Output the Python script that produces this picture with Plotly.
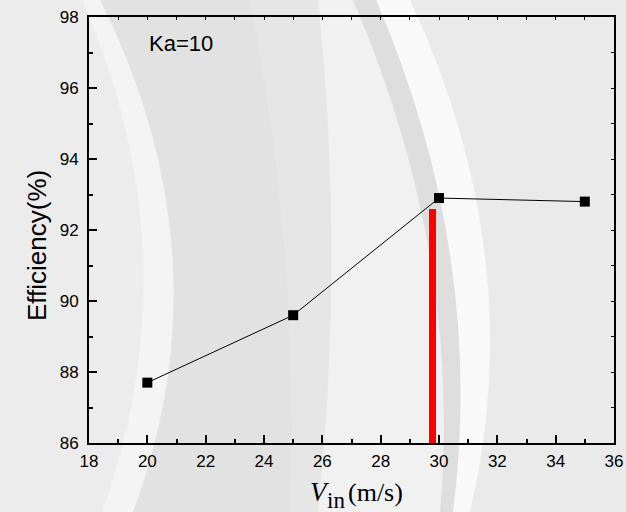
import plotly.graph_objects as go

# ---------------- data ----------------
velocity = [20, 25, 30, 35]
efficiency = [87.7, 89.6, 92.9, 92.8]
marker_line_x = [29.77]
marker_line_top = [92.6]
x_ticks = [18, 20, 22, 24, 26, 28, 30, 32, 34, 36]
y_ticks = [86, 88, 90, 92, 94, 96, 98]
annotation_label = "Ka=10"
y_title = "Efficiency(%)"

# ---------------- layout geometry ----------------
W, H = 626, 512
ML, MR, MT, MB = 89, 12, 17, 69
PW, PH = W - ML - MR, H - MT - MB


def P(x, y):
    return ((x - ML) / PW, (H - MB - y) / PH)


def fmt(pt):
    return f"{pt[0]:.4f},{pt[1]:.4f}"


def region_right_of(p0, c, p2, right=660):
    s = f"M {fmt(P(p0[0], -20))} L {fmt(P(*p0))} Q {fmt(P(*c))} {fmt(P(*p2))} "
    s += f"L {fmt(P(p2[0], 540))} L {fmt(P(right, 540))} L {fmt(P(right, -20))} Z"
    return s


def band(l, r):
    s = f"M {fmt(P(l[0][0], -20))} L {fmt(P(*l[0]))} Q {fmt(P(*l[1]))} {fmt(P(*l[2]))} L {fmt(P(l[2][0], 540))} "
    s += f"L {fmt(P(r[2][0], 540))} L {fmt(P(*r[2]))} Q {fmt(P(*r[1]))} {fmt(P(*r[0]))} L {fmt(P(r[0][0], -20))} Z"
    return s


b1L = [(82, 0), (194, 256), (102, 512)]
b1R = [(100, 0), (228, 256), (133, 512)]
mid1 = [(250, 0), (300, 256), (290, 512)]
lightL = [(318, 0), (345, 256), (318, 512)]
darkL = [(353, 0), (463, 256), (440, 512)]
darkR = [(376, 0), (486, 256), (453, 512)]
whiteR = [(410, 0), (530, 256), (470, 512)]

bg_shapes = []
for curve, col in [(b1R, "#e2e2e2"), (mid1, "#e6e6e6"), (lightL, "#f1f1f1"),
                   (darkL, "#dedede"), (darkR, "#f9f9f9"), (whiteR, "#eaeaea")]:
    bg_shapes.append(dict(type="path", xref="paper", yref="paper", layer="below",
                          path=region_right_of(*curve), fillcolor=col,
                          line=dict(width=0)))
bg_shapes.append(dict(type="path", xref="paper", yref="paper", layer="below",
                      path=band(b1L, b1R), fillcolor="#f4f4f4", line=dict(width=0)))

fig = go.Figure()
fig.add_trace(go.Bar(x=marker_line_x, y=marker_line_top, width=0.26,
                     marker=dict(color="#ff0000", line=dict(width=0)),
                     showlegend=False, hoverinfo="skip"))
fig.add_trace(go.Scatter(x=velocity, y=efficiency, mode="lines+markers",
                         line=dict(color="black", width=1),
                         marker=dict(symbol="square", size=10, color="black"),
                         showlegend=False))
# empty trace to activate mirror axes
fig.add_trace(go.Scatter(x=[], y=[], xaxis="x2", yaxis="y2", showlegend=False))

tickfont = dict(family="Arial, Liberation Sans", size=17, color="black")

fig.update_layout(
    width=W, height=H,
    margin=dict(l=ML, r=MR, t=MT, b=MB, autoexpand=False),
    paper_bgcolor="#ececec",
    plot_bgcolor="rgba(0,0,0,0)",
    shapes=bg_shapes,
    xaxis=dict(range=[18, 36], tickvals=x_ticks, ticktext=[str(v) for v in x_ticks],
               showgrid=False, zeroline=False, showline=True, linecolor="black",
               linewidth=2, ticks="inside", ticklen=8, tickwidth=2, tickcolor="black",
               minor=dict(dtick=1, tick0=18, ticks="inside", ticklen=4, tickwidth=2,
                          tickcolor="black"),
               tickfont=tickfont, ticklabelstandoff=2, automargin=False),
    yaxis=dict(range=[86, 98], tickvals=y_ticks, ticktext=[str(v) for v in y_ticks],
               showgrid=False, zeroline=False, showline=True, linecolor="black",
               linewidth=2, ticks="inside", ticklen=8, tickwidth=2, tickcolor="black",
               minor=dict(dtick=1, tick0=86, ticks="inside", ticklen=4, tickwidth=2,
                          tickcolor="black"),
               tickfont=tickfont, ticklabelstandoff=5, automargin=False),
    xaxis2=dict(range=[18, 36], overlaying="x", side="top", anchor="y2",
                showgrid=False, zeroline=False, showline=True, linecolor="black",
                linewidth=2, ticks="inside", dtick=1, tick0=18, ticklen=3, tickwidth=1,
                tickcolor="black", showticklabels=False),
    yaxis2=dict(range=[86, 98], overlaying="y", side="right", anchor="x2",
                showgrid=False, zeroline=False, showline=True, linecolor="black",
                linewidth=2, ticks="inside", dtick=1, tick0=86, ticklen=3, tickwidth=1,
                tickcolor="black", showticklabels=False),
    bargap=0,
)

ann_font = dict(family="Arial, Liberation Sans", color="black")
serif = "Liberation Serif, Times New Roman, serif"
fig.add_annotation(text=annotation_label, xref="paper", yref="paper",
                   x=P(181, 43)[0], y=P(181, 43)[1], showarrow=False,
                   xanchor="center", yanchor="middle", font=dict(size=22, **ann_font))
fig.add_annotation(text=y_title, xref="paper", yref="paper",
                   x=P(37, 246)[0], y=P(37, 246)[1], showarrow=False, textangle=-90,
                   xanchor="center", yanchor="middle", font=dict(size=26, **ann_font))
# x title: V (italic), subscript "in", (m/s)
fig.add_annotation(text="<i>V</i>", xref="paper", yref="paper",
                   x=P(308, 492)[0], y=P(308, 492)[1], showarrow=False,
                   xanchor="left", yanchor="middle",
                   font=dict(size=27, family=serif, color="black"))
fig.add_annotation(text="in", xref="paper", yref="paper",
                   x=P(325, 500)[0], y=P(325, 500)[1], showarrow=False,
                   xanchor="left", yanchor="middle",
                   font=dict(size=23, family=serif, color="black"))
fig.add_annotation(text="(m/s)", xref="paper", yref="paper",
                   x=P(346, 492)[0], y=P(346, 492)[1], showarrow=False,
                   xanchor="left", yanchor="middle",
                   font=dict(size=26, family=serif, color="black"))

fig.write_html("out.html", config={"displayModeBar": False},
               post_script="document.body.style.margin='0';")
